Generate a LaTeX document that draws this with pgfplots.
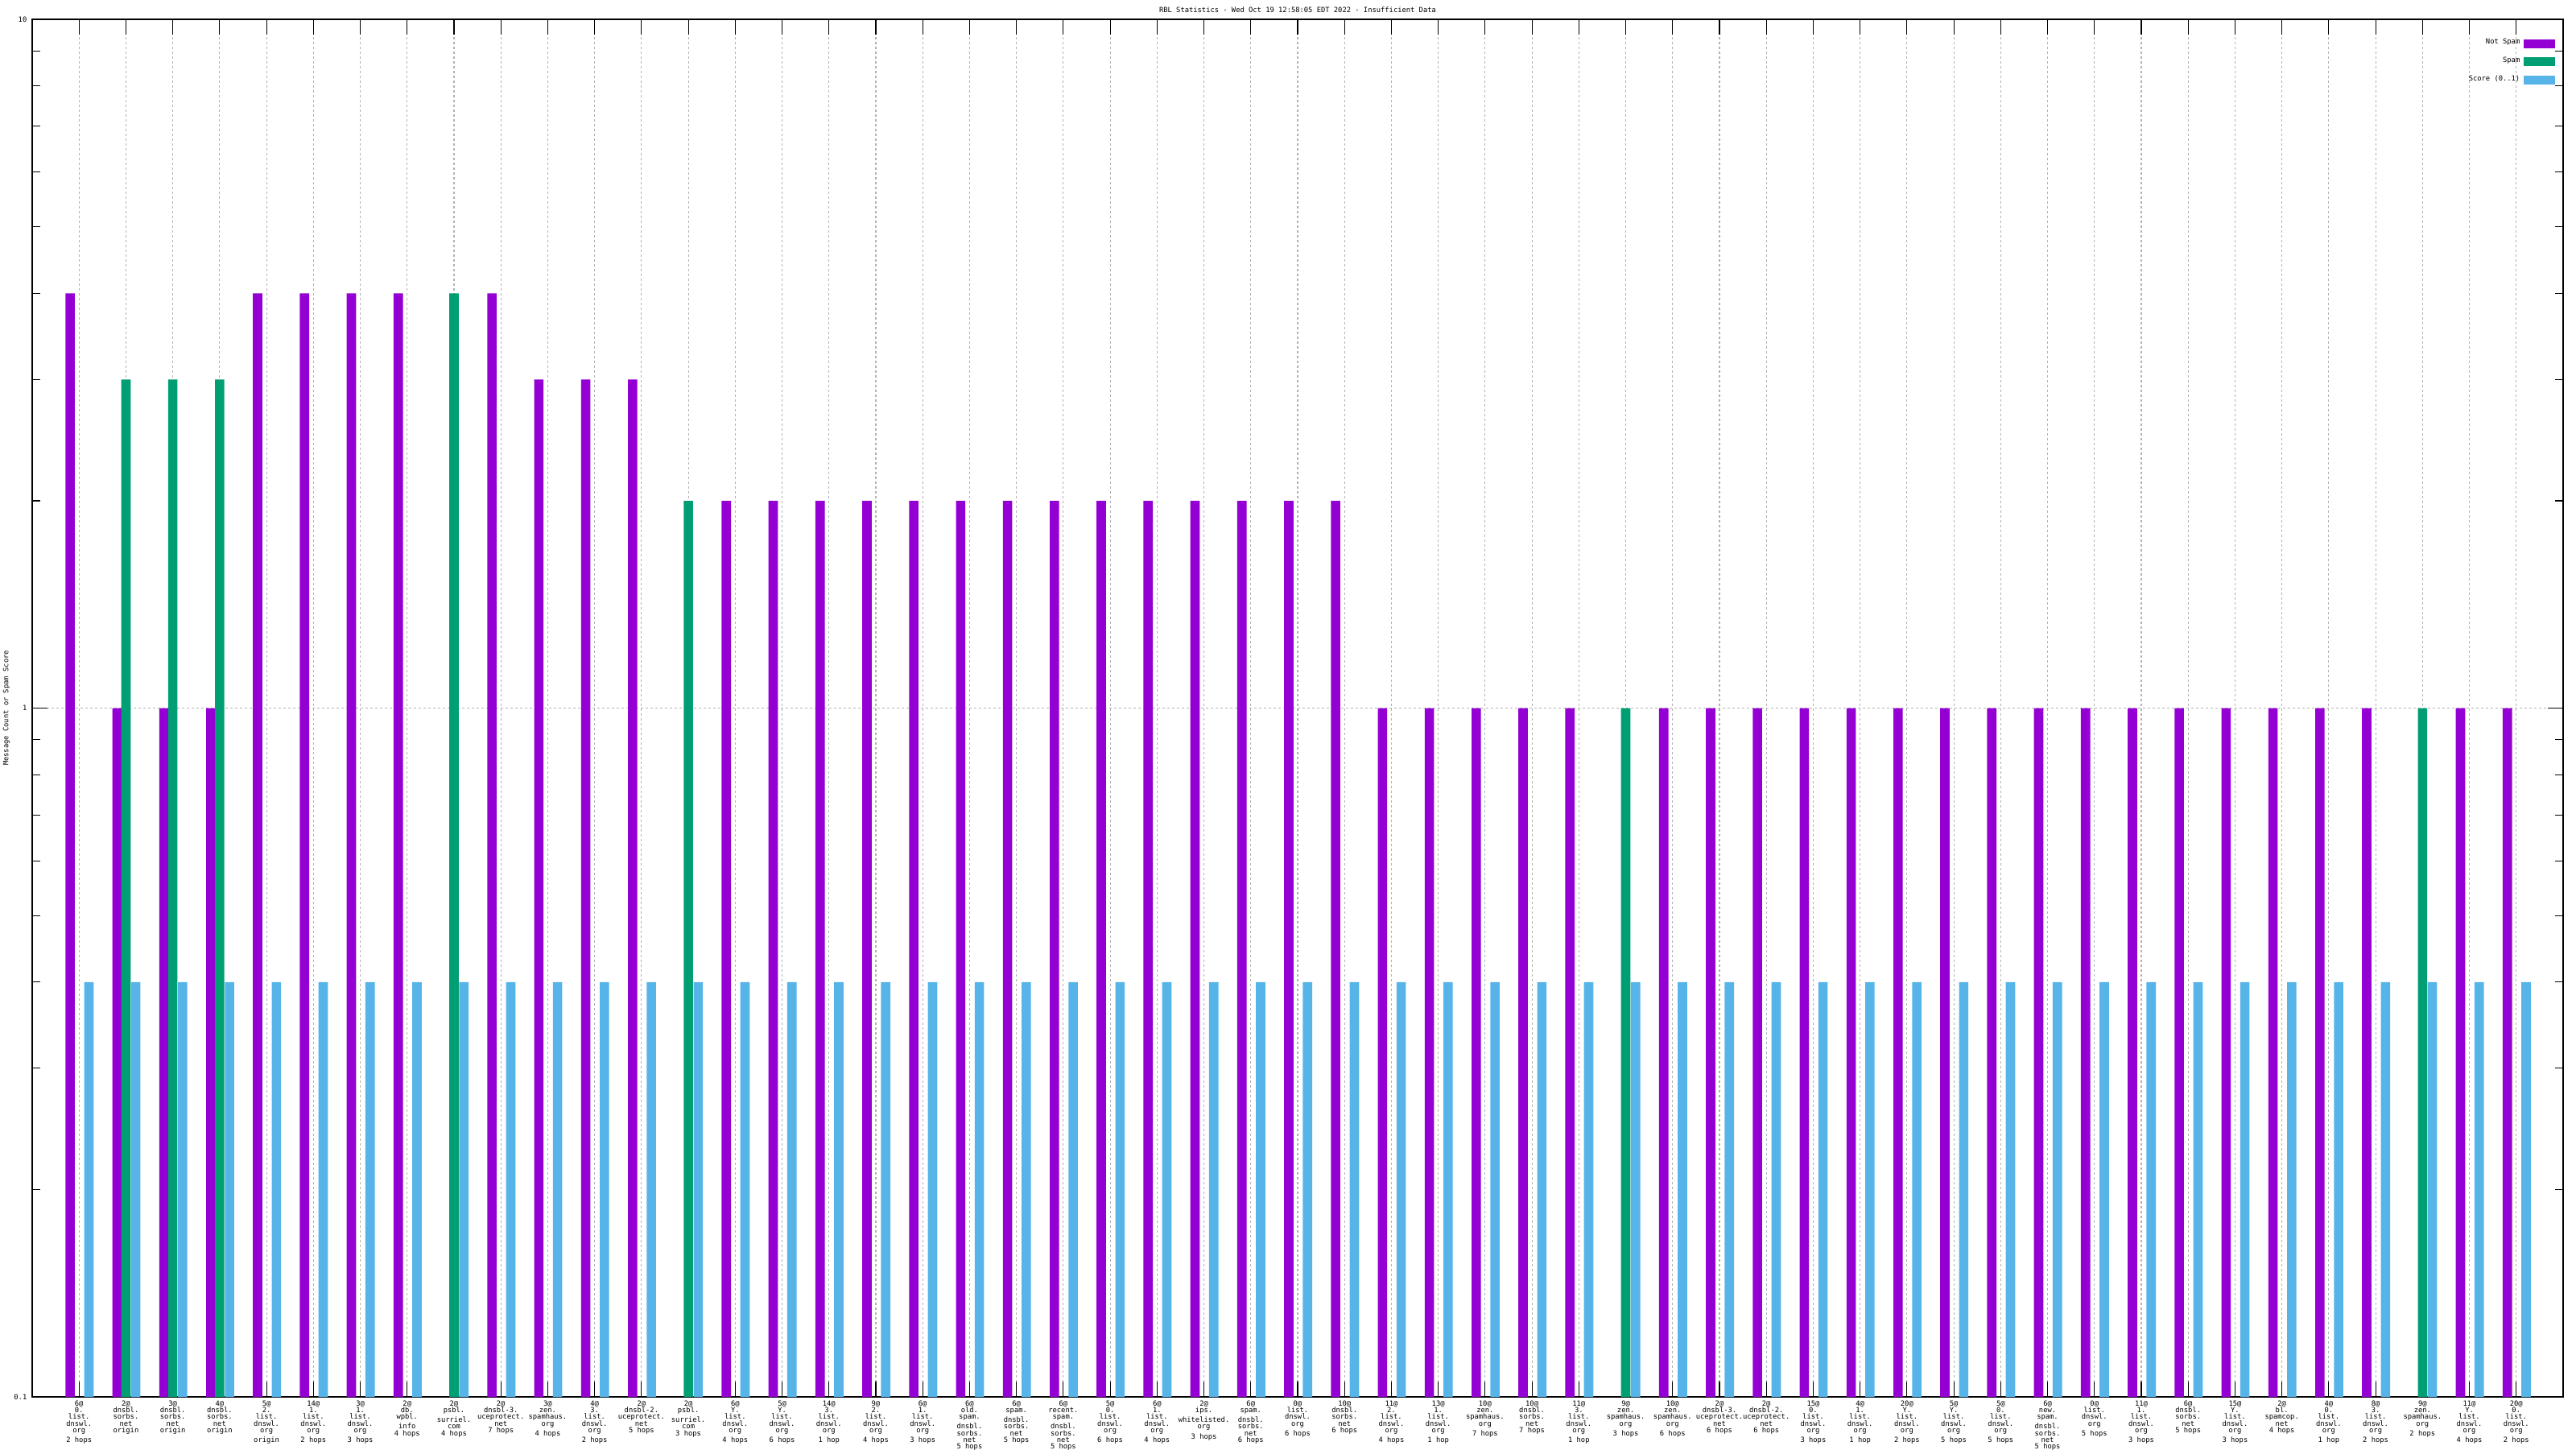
\documentclass[border=0pt]{standalone}
\usepackage{pgfplots}
\pgfplotsset{compat=1.18}
\usepackage{fontspec}
\setmainfont{DejaVu Sans Mono}
\definecolor{cNS}{HTML}{9400D3}
\definecolor{cS}{HTML}{009E73}
\definecolor{cSc}{HTML}{56B4E9}
\newcommand{\tf}{\fontsize{2.5}{2.37}\selectfont}
\begin{document}
\begin{tikzpicture}
\begin{axis}[
  scale only axis, width=31.44cm, height=17.11cm,
  ymode=log, log origin y=infty, ymin=0.1, ymax=10,
  xmin=-1, xmax=53,
  log ticks with fixed point,
  /pgf/number format/assume math mode=true,
  ytick={0.1,1,10},
  minor ytick={0.2,0.3,0.4,0.5,0.6,0.7,0.8,0.9,2,3,4,5,6,7,8,9},
  xtick={0,...,52},
  xticklabels={
{6@\\0.\\list.\\dnswl.\\org\\2 hops},
{2@\\dnsbl.\\sorbs.\\net\\origin},
{3@\\dnsbl.\\sorbs.\\net\\origin},
{4@\\dnsbl.\\sorbs.\\net\\origin},
{5@\\2.\\list.\\dnswl.\\org\\origin},
{14@\\1.\\list.\\dnswl.\\org\\2 hops},
{3@\\1.\\list.\\dnswl.\\org\\3 hops},
{2@\\db.\\wpbl.\\info\\4 hops},
{2@\\psbl.\\surriel.\\com\\4 hops},
{2@\\dnsbl-3.\\uceprotect.\\net\\7 hops},
{3@\\zen.\\spamhaus.\\org\\4 hops},
{4@\\3.\\list.\\dnswl.\\org\\2 hops},
{2@\\dnsbl-2.\\uceprotect.\\net\\5 hops},
{2@\\psbl.\\surriel.\\com\\3 hops},
{6@\\Y.\\list.\\dnswl.\\org\\4 hops},
{5@\\Y.\\list.\\dnswl.\\org\\6 hops},
{14@\\3.\\list.\\dnswl.\\org\\1 hop},
{9@\\2.\\list.\\dnswl.\\org\\4 hops},
{6@\\1.\\list.\\dnswl.\\org\\3 hops},
{6@\\old.\\spam.\\dnsbl.\\sorbs.\\net\\5 hops},
{6@\\spam.\\dnsbl.\\sorbs.\\net\\5 hops},
{6@\\recent.\\spam.\\dnsbl.\\sorbs.\\net\\5 hops},
{5@\\0.\\list.\\dnswl.\\org\\6 hops},
{6@\\1.\\list.\\dnswl.\\org\\4 hops},
{2@\\ips.\\whitelisted.\\org\\3 hops},
{6@\\spam.\\dnsbl.\\sorbs.\\net\\6 hops},
{0@\\list.\\dnswl.\\org\\6 hops},
{10@\\dnsbl.\\sorbs.\\net\\6 hops},
{11@\\2.\\list.\\dnswl.\\org\\4 hops},
{13@\\1.\\list.\\dnswl.\\org\\1 hop},
{10@\\zen.\\spamhaus.\\org\\7 hops},
{10@\\dnsbl.\\sorbs.\\net\\7 hops},
{11@\\3.\\list.\\dnswl.\\org\\1 hop},
{9@\\zen.\\spamhaus.\\org\\3 hops},
{10@\\zen.\\spamhaus.\\org\\6 hops},
{2@\\dnsbl-3.\\uceprotect.\\net\\6 hops},
{2@\\dnsbl-2.\\uceprotect.\\net\\6 hops},
{15@\\0.\\list.\\dnswl.\\org\\3 hops},
{4@\\1.\\list.\\dnswl.\\org\\1 hop},
{20@\\Y.\\list.\\dnswl.\\org\\2 hops},
{5@\\Y.\\list.\\dnswl.\\org\\5 hops},
{5@\\0.\\list.\\dnswl.\\org\\5 hops},
{6@\\new.\\spam.\\dnsbl.\\sorbs.\\net\\5 hops},
{0@\\list.\\dnswl.\\org\\5 hops},
{11@\\1.\\list.\\dnswl.\\org\\3 hops},
{6@\\dnsbl.\\sorbs.\\net\\5 hops},
{15@\\Y.\\list.\\dnswl.\\org\\3 hops},
{2@\\bl.\\spamcop.\\net\\4 hops},
{4@\\0.\\list.\\dnswl.\\org\\1 hop},
{8@\\3.\\list.\\dnswl.\\org\\2 hops},
{9@\\zen.\\spamhaus.\\org\\2 hops},
{11@\\Y.\\list.\\dnswl.\\org\\4 hops},
{20@\\0.\\list.\\dnswl.\\org\\2 hops}},
  xticklabel style={font=\tf, align=center, inner sep=0pt, anchor=north, yshift=-0.04cm},
  yticklabel style={font=\tf, inner sep=0pt, xshift=-0.06cm},
  tick align=inside,
  major tick length=0.19cm, minor tick length=0.1cm,
  every tick/.style={black, line width=0.3pt},
  axis line style={line width=0.4pt},
  xmajorgrids, ymajorgrids,
  grid style={gray!60, line width=0.3pt, dash pattern=on 0.03cm off 0.03cm},
  every axis title shift=0pt,
  title={RBL Statistics - Wed Oct 19 12:58:05 EDT 2022 - Insufficient Data},
  title style={font=\tf, at={(0.5,1)}, anchor=south, inner sep=0pt, yshift=0.08cm},
  ylabel={Message Count or Spam Score},
  every axis y label/.style={font=\tf, at={(rel axis cs:0,0.5)}, rotate=90, anchor=center, yshift=0.32cm, inner sep=0pt},
  legend plot pos=right, legend cell align=right,
  legend image code/.code={\fill[#1, draw=none] (0cm,-0.055cm) rectangle (0.39cm,0.055cm);},
  legend style={at={(1,1)}, anchor=north east, xshift=-0.09cm, yshift=-0.235cm,
    draw=none, fill=none, font=\tf, inner sep=0pt, nodes={inner sep=0pt},
    row sep=0.11cm, column sep=0.05cm},
]
\addplot[ybar, bar width=0.2, bar shift=-0.19, fill=cNS, draw=none] coordinates {
(0,4)(1,1)(2,1)(3,1)(4,4)(5,4)(6,4)(7,4)(9,4)(10,3)(11,3)(12,3)
(14,2)(15,2)(16,2)(17,2)(18,2)(19,2)(20,2)(21,2)(22,2)(23,2)(24,2)(25,2)(26,2)(27,2)
(28,1)(29,1)(30,1)(31,1)(32,1)(34,1)(35,1)(36,1)(37,1)(38,1)(39,1)(40,1)(41,1)(42,1)
(43,1)(44,1)(45,1)(46,1)(47,1)(48,1)(49,1)(51,1)(52,1)};
\addlegendentry{Not Spam}
\addplot[ybar, bar width=0.2, bar shift=0, fill=cS, draw=none] coordinates {
(1,3)(2,3)(3,3)(8,4)(13,2)(33,1)(50,1)};
\addlegendentry{Spam}
\addplot[ybar, bar width=0.2, bar shift=0.21, fill=cSc, draw=none] coordinates {
(0,0.4)(1,0.4)(2,0.4)(3,0.4)(4,0.4)(5,0.4)(6,0.4)(7,0.4)(8,0.4)(9,0.4)
(10,0.4)(11,0.4)(12,0.4)(13,0.4)(14,0.4)(15,0.4)(16,0.4)(17,0.4)(18,0.4)(19,0.4)
(20,0.4)(21,0.4)(22,0.4)(23,0.4)(24,0.4)(25,0.4)(26,0.4)(27,0.4)(28,0.4)(29,0.4)
(30,0.4)(31,0.4)(32,0.4)(33,0.4)(34,0.4)(35,0.4)(36,0.4)(37,0.4)(38,0.4)(39,0.4)
(40,0.4)(41,0.4)(42,0.4)(43,0.4)(44,0.4)(45,0.4)(46,0.4)(47,0.4)(48,0.4)(49,0.4)
(50,0.4)(51,0.4)(52,0.4)};
\addlegendentry{Score (0..1)}
\coordinate (O) at (rel axis cs:0,0);
\end{axis}
\pgfresetboundingbox
\path (O) ++(-0.40cm,-0.65cm) rectangle ++(32cm,18cm);
\end{tikzpicture}
\end{document}
